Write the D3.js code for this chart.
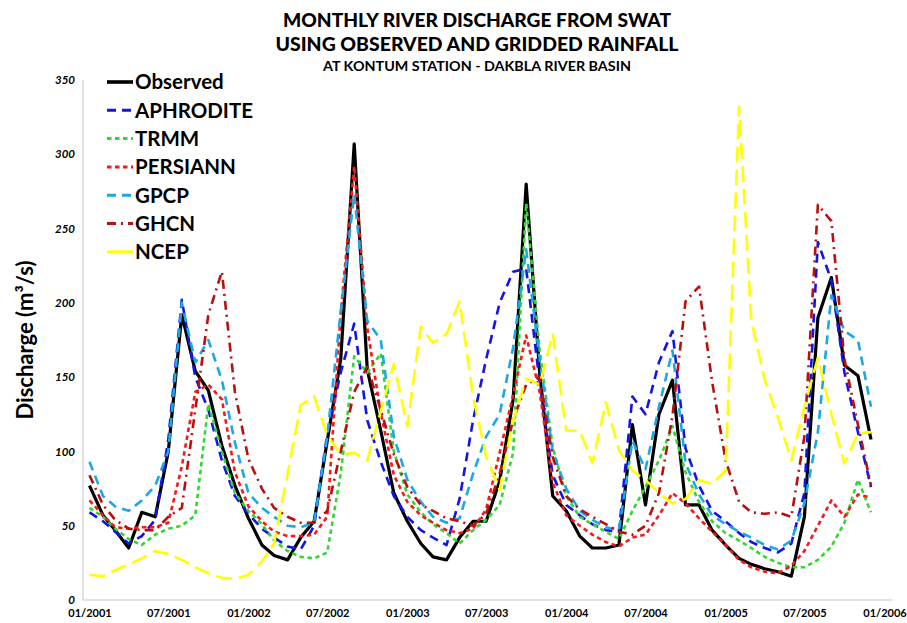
<!DOCTYPE html>
<html>
<head>
<meta charset="utf-8">
<script src="https://cdn.jsdelivr.net/npm/d3@7"></script>
<style>
  html, body { margin: 0; padding: 0; background: #ffffff; }
  svg { display: block; }
  text { font-family: Lato, "Open Sans", sans-serif; }
</style>
</head>
<body>
<svg id="chart" width="907" height="623"></svg>
<script>
// ---- Data (monthly, 01/2001 .. 12/2005) ----
const startYear = 2001;
const monthCount = 60;
const tickLabels = ["01/2001","07/2001","01/2002","07/2002","01/2003","07/2003","01/2004","07/2004","01/2005","07/2005","01/2006"];
const yTicks = [0, 50, 100, 150, 200, 250, 300, 350];

const observed = [77,57,47,35,59,56,100,192,154,141,104,77,55,37,30,27,42,53,107,162,307,155,114,72,53,38,29,27,42,53,53,80,135,280,153,70,60,43,35,35,37,118,64,125,148,64,64,47,37,28,24,21,19,16,56,190,217,158,151,108];
const aphrodite = [59,53,46,38,43,54,108,202,150,128,94,70,58,48,42,36,34,50,112,153,186,121,93,70,56,47,42,37,68,121,162,200,221,223,146,84,64,57,51,47,46,137,125,160,181,102,77,60,53,45,39,35,32,38,72,241,215,153,113,76];
const trmm = [62,56,48,41,37,44,48,50,57,132,100,72,60,51,40,33,29,28,32,85,164,153,166,100,71,59,51,45,38,47,54,64,99,267,168,103,70,56,51,46,41,60,76,94,117,86,66,53,45,40,35,29,25,22,22,27,36,52,81,59];
const persiann = [67,57,49,48,49,49,52,90,140,145,135,86,63,53,46,43,43,44,56,193,292,183,126,84,66,57,52,47,45,48,61,99,138,178,140,79,57,50,44,39,36,42,44,57,72,65,55,46,37,27,22,19,18,23,33,50,67,56,71,69];
const gpcp = [93,70,63,60,67,77,100,200,160,175,148,106,72,62,56,50,49,52,110,194,273,188,175,110,81,66,56,52,55,85,110,125,170,236,162,100,75,60,54,49,47,107,88,130,168,92,71,57,51,46,42,37,34,40,65,113,205,181,175,130];
const ghcn = [84,64,54,48,47,47,56,62,128,192,221,140,95,75,62,56,52,52,60,100,140,157,128,98,76,64,60,55,53,50,58,85,121,145,150,96,70,61,56,51,46,44,50,72,124,201,211,147,94,66,59,58,59,56,110,266,255,162,118,77];
const ncep = [17,16,20,24,28,33,31,27,22,18,15,14,17,26,38,85,131,137,111,98,99,94,127,159,117,184,173,179,201,137,97,74,121,149,145,179,114,114,92,133,101,87,81,72,65,68,81,78,87,332,188,148,123,94,130,163,125,92,112,113];

const seriesNames = ["Observed","APHRODITE","TRMM","PERSIANN","GPCP","GHCN","NCEP"];
const seriesValues = [observed, aphrodite, trmm, persiann, gpcp, ghcn, ncep];
const seriesColors = ["#000000","#1414E6","#33D633","#F51A1A","#1CA8E2","#B80F0F","#FFFF00"];
const seriesDash = ["none","9,6","4.5,3.5","4.5,3.5","9,6","9,5,2,5","16,7"];
const seriesWidth = [3.2,2.6,2.6,2.6,2.6,2.6,2.6];

const titleLines = ["MONTHLY RIVER DISCHARGE FROM SWAT","USING OBSERVED AND GRIDDED RAINFALL","AT KONTUM STATION - DAKBLA RIVER BASIN"];
const yAxisTitle = "Discharge (m³/s)";

// ---- Layout ----
const svg = d3.select("#chart");
const months = d3.range(monthCount).map(i => new Date(Date.UTC(startYear, i, 1)));
const tickDates = tickLabels.map(s => { const [m, yy] = s.split("/"); return new Date(Date.UTC(+yy, +m - 1, 1)); });

const x = d3.scaleUtc()
  .domain([new Date(Date.UTC(2001,0,1)), new Date(Date.UTC(2006,0,1))])
  .range([89.5, 884.5]);
const y = d3.scaleLinear().domain([0, 350]).range([600, 80]);

// Title
const titleG = svg.append("g").attr("fill", "#000");
titleG.append("text").attr("x", 477).attr("y", 27).attr("text-anchor", "middle")
  .attr("font-size", 19.5).attr("font-weight", 900)
  .attr("textLength", 388).attr("lengthAdjust", "spacingAndGlyphs").text(titleLines[0]);
titleG.append("text").attr("x", 477).attr("y", 51).attr("text-anchor", "middle")
  .attr("font-size", 19.5).attr("font-weight", 900)
  .attr("textLength", 403).attr("lengthAdjust", "spacingAndGlyphs").text(titleLines[1]);
titleG.append("text").attr("x", 477).attr("y", 71).attr("text-anchor", "middle")
  .attr("font-size", 13).attr("font-weight", 700)
  .attr("textLength", 308).attr("lengthAdjust", "spacingAndGlyphs").text(titleLines[2]);

// Axes
const yAxis = d3.axisLeft(y).tickValues(yTicks).tickSize(0).tickPadding(8);
const yg = svg.append("g").attr("transform", "translate(83,0)").call(yAxis);
yg.select(".domain").remove();
yg.selectAll("text").attr("font-size", 11.5).attr("font-weight", 700).attr("font-style", "italic")
  .attr("fill", "#000").attr("font-family", "Lato, sans-serif");

const xAxis = d3.axisBottom(x).tickValues(tickDates).tickSize(0).tickPadding(9)
  .tickFormat(d3.utcFormat("%m/%Y"));
const xg = svg.append("g").attr("transform", "translate(0,600)").call(xAxis);
xg.select(".domain").remove();
xg.selectAll("text").attr("font-size", 11).attr("font-weight", 700)
  .attr("fill", "#000").attr("font-family", "Lato, sans-serif");

// axis lines
svg.append("line").attr("x1", 83).attr("x2", 83).attr("y1", y(350)).attr("y2", y(0))
  .attr("stroke", "#d9d9d9").attr("stroke-width", 1.5);
svg.append("line").attr("x1", 83).attr("x2", 892).attr("y1", y(0)).attr("y2", y(0))
  .attr("stroke", "#d9d9d9").attr("stroke-width", 1.5);

// Y axis title
svg.append("text").attr("transform", "translate(33,340) rotate(-90)")
  .attr("text-anchor", "middle").attr("font-size", 22).attr("font-weight", 700)
  .attr("fill", "#000").text(yAxisTitle);

// Lines
const line = d3.line().x((d, i) => x(months[i])).y(d => y(d));
const linesG = svg.append("g").attr("fill", "none");
seriesValues.forEach((vals, k) => {
  linesG.append("path").datum(vals)
    .attr("d", line)
    .attr("stroke", seriesColors[k])
    .attr("stroke-width", seriesWidth[k])
    .attr("stroke-dasharray", seriesDash[k])
    .attr("stroke-linejoin", "round")
    .attr("stroke-linecap", "butt");
});

// Legend
const legend = svg.append("g");
seriesNames.forEach((name, k) => {
  const cy = 82 + 28.3 * k;
  legend.append("line").attr("x1", 107).attr("x2", 133).attr("y1", cy).attr("y2", cy)
    .attr("stroke", seriesColors[k]).attr("stroke-width", seriesWidth[k] + 0.4)
    .attr("stroke-dasharray", k === 6 ? "none" : seriesDash[k]);
  legend.append("text").attr("x", 135).attr("y", cy).attr("dy", "0.36em")
    .attr("font-size", 20.5).attr("font-weight", 700).attr("fill", "#000").text(name);
});
</script>
</body>
</html>
